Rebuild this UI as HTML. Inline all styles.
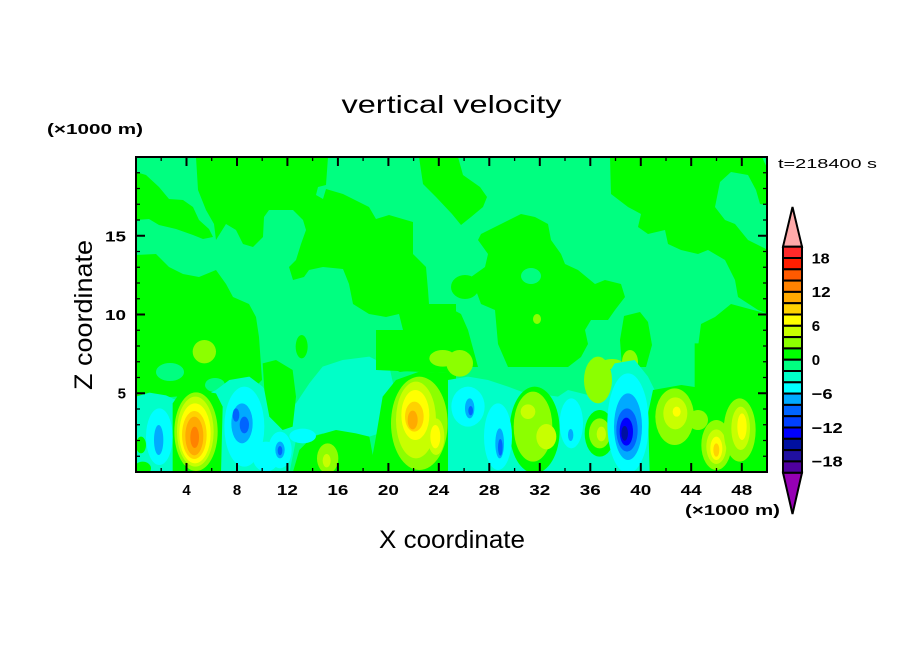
<!DOCTYPE html>
<html>
<head>
<meta charset="utf-8">
<style>
html,body{margin:0;padding:0;background:#fff;}
svg{display:block;}
text{font-family:"Liberation Sans",sans-serif;fill:#000;}
</style>
</head>
<body>
<svg width="904" height="654" viewBox="0 0 904 654" xmlns="http://www.w3.org/2000/svg">
<defs>
<clipPath id="pc"><rect x="136" y="157" width="631" height="315"/></clipPath>
</defs>
<rect width="904" height="654" fill="#fff"/>

<g clip-path="url(#pc)">
  <rect x="136" y="157" width="631" height="315" fill="#00ff80"/>
  <!-- upper green regions (actual coords) -->
  <g fill="#00ff00">
    <polygon points="136,172 146,175 159,187 169,199 183,200 193,207 199,220 209,229 213,237 203,239 193,235 176,229 159,225 149,219 136,220"/>
    <polygon points="196,157 328,157 326,185 318,187 316,195 323,199 326,189 343,194 369,207 376,219 389,215 413,222 413,254 426,267 428,290 429,304 456,304 456,372 430,368 400,372 385,365 399,347 403,330 399,314 386,317 369,314 353,304 349,284 343,269 323,267 309,270 304,277 293,280 289,267 296,260 301,244 306,230 303,220 293,210 269,210 264,217 263,237 253,247 243,244 236,230 226,224 216,240 214,224 206,210 198,190"/>
    <polygon points="419,157 458,157 463,175 480,187 487,197 483,207 471,217 461,225 452,214 436,197 423,184"/>
    <polygon points="610,157 768,157 768,314 758,310 738,297 735,280 725,260 708,250 698,254 681,250 668,244 665,230 648,234 638,227 641,214 628,207 611,194"/>
    <polygon points="481,234 501,224 521,214 535,217 548,224 551,240 561,254 565,264 578,270 595,284 605,280 621,284 625,297 615,310 608,320 591,320 585,330 588,344 581,357 568,367 508,367 498,344 495,310 481,304 471,277 485,267 488,254 478,240"/>
    <polygon points="695,370 701,324 715,317 731,304 768,314 768,370"/>
    <polygon points="448,307 461,314 468,330 478,367 448,367"/>
    <polygon points="624,316 640,312 648,322 652,345 646,367 622,367 620,340"/>
    <polygon points="136,255 156,254 169,267 183,274 199,277 216,270 226,284 233,297 249,304 256,317 259,337 262,380 250,392 220,393 200,395 170,397 150,400 136,400"/>
    <ellipse cx="465" cy="287" rx="14" ry="12"/>
  </g>
  <g fill="#00ff80">
    <polygon points="715,207 720,182 731,172 748,175 756,190 760,204 768,205 768,250 748,240 735,224 725,220"/>
    <polygon points="762,157 768,157 768,170"/>
    <ellipse cx="531" cy="276" rx="10" ry="8"/>
    <ellipse cx="170" cy="372" rx="14" ry="9"/>
    <ellipse cx="215" cy="385" rx="10" ry="7"/>
  </g>
  <g fill="#8cff00">
    <ellipse cx="630" cy="362" rx="8" ry="12"/>
    <ellipse cx="612" cy="364" rx="11" ry="5"/>
    <ellipse cx="537" cy="319" rx="4" ry="5"/>
    <ellipse cx="442" cy="360" rx="12" ry="8"/>
  </g>

  <!-- zoom 10 region: left lower -->
  <g transform="translate(136,330) scale(0.33333)">
    <polygon points="0,429 0,200 40,188 90,196 120,210 200,200 240,180 280,150 340,140 380,170 420,230 480,220 520,160 560,110 620,90 700,80 760,110 780,200 760,300 700,320 640,330 560,310 480,330 460,429" fill="#00ffc8"/>
    <g fill="#00ff00">
      <polygon points="110,429 110,220 130,190 180,180 240,190 260,230 255,429"/>
      <polygon points="470,429 490,360 530,320 600,300 660,310 700,320 720,429"/>
      <polygon points="700,429 720,320 740,200 780,150 850,125 960,130 960,429"/>
      <polygon points="380,100 420,90 470,120 480,200 470,290 440,300 400,260 385,180"/>
      <ellipse cx="497" cy="50" rx="18" ry="35"/>
      <ellipse cx="15" cy="345" rx="15" ry="25"/>
      <polygon points="720,0 960,0 960,130 720,120"/>
      <ellipse cx="20" cy="415" rx="25" ry="20"/>
    </g>
    <g fill="#00ffff">
      <ellipse cx="70" cy="320" rx="40" ry="85"/>
      <ellipse cx="325" cy="290" rx="60" ry="120"/>
      <ellipse cx="390" cy="380" rx="40" ry="45"/>
      <ellipse cx="432" cy="360" rx="35" ry="55"/>
      <ellipse cx="500" cy="318" rx="40" ry="22"/>
    </g>
    <g fill="#00aaff">
      <ellipse cx="68" cy="330" rx="14" ry="45"/>
      <ellipse cx="318" cy="280" rx="32" ry="60"/>
      <ellipse cx="432" cy="360" rx="14" ry="25"/>
    </g>
    <g fill="#0064ff">
      <ellipse cx="300" cy="255" rx="10" ry="20"/>
      <ellipse cx="325" cy="285" rx="14" ry="25"/>
      <ellipse cx="432" cy="362" rx="7" ry="14"/>
    </g>
    <ellipse cx="180" cy="305" rx="65" ry="118" fill="#8cff00"/>
    <ellipse cx="178" cy="305" rx="55" ry="105" fill="#c8ff00"/>
    <ellipse cx="177" cy="310" rx="47" ry="90" fill="#ffff00"/>
    <ellipse cx="175" cy="315" rx="37" ry="72" fill="#ffd200"/>
    <ellipse cx="175" cy="318" rx="27" ry="58" fill="#ffaa00"/>
    <ellipse cx="176" cy="322" rx="13" ry="32" fill="#ff8200"/>
    <ellipse cx="205" cy="65" rx="35" ry="35" fill="#8cff00"/>
    <ellipse cx="575" cy="385" rx="32" ry="45" fill="#8cff00"/>
    <ellipse cx="572" cy="392" rx="12" ry="20" fill="#c8ff00"/>
    <ellipse cx="850" cy="280" rx="85" ry="140" fill="#8cff00"/>
    <ellipse cx="840" cy="270" rx="60" ry="115" fill="#c8ff00"/>
    <ellipse cx="838" cy="255" rx="42" ry="75" fill="#ffff00"/>
    <ellipse cx="900" cy="320" rx="25" ry="55" fill="#c8ff00"/>
    <ellipse cx="898" cy="320" rx="15" ry="35" fill="#ffff00"/>
    <ellipse cx="835" cy="260" rx="28" ry="45" fill="#ffd200"/>
    <ellipse cx="830" cy="270" rx="15" ry="28" fill="#ffaa00"/>
    <ellipse cx="920" cy="85" rx="40" ry="25" fill="#8cff00"/>
  </g>

  <!-- zoom 11 region: right lower -->
  <g transform="translate(448,330) scale(0.33333)">
    <polygon points="0,150 60,140 120,150 180,170 220,185 330,200 360,180 420,195 470,150 500,100 560,90 600,140 620,180 620,429 0,429" fill="#00ffc8"/>
    <g fill="#00ff00">
      <polygon points="605,429 600,250 615,180 700,165 800,180 960,190 960,429"/>
      <polygon points="740,40 960,40 960,200 740,200"/>
      <ellipse cx="260" cy="300" rx="75" ry="130"/>
      <ellipse cx="455" cy="310" rx="45" ry="70"/>
    </g>
    <ellipse cx="35" cy="100" rx="40" ry="40" fill="#8cff00"/>
    <ellipse cx="450" cy="150" rx="42" ry="70" fill="#8cff00"/>
    <ellipse cx="255" cy="290" rx="58" ry="105" fill="#8cff00"/>
    <ellipse cx="240" cy="245" rx="22" ry="22" fill="#c8ff00"/>
    <ellipse cx="295" cy="320" rx="30" ry="38" fill="#c8ff00"/>
    <ellipse cx="455" cy="310" rx="32" ry="45" fill="#8cff00"/>
    <ellipse cx="460" cy="312" rx="14" ry="22" fill="#c8ff00"/>
    <g fill="#00ffff">
      <ellipse cx="60" cy="230" rx="50" ry="60"/>
      <ellipse cx="150" cy="320" rx="42" ry="100"/>
      <ellipse cx="370" cy="280" rx="35" ry="75"/>
      <ellipse cx="540" cy="280" rx="62" ry="150"/>
    </g>
    <g fill="#00aaff">
      <ellipse cx="65" cy="235" rx="14" ry="30"/>
      <ellipse cx="155" cy="340" rx="13" ry="45"/>
      <ellipse cx="368" cy="315" rx="8" ry="18"/>
      <ellipse cx="540" cy="290" rx="42" ry="100"/>
    </g>
    <g fill="#0064ff">
      <ellipse cx="68" cy="242" rx="7" ry="14"/>
      <ellipse cx="157" cy="352" rx="7" ry="25"/>
      <ellipse cx="537" cy="300" rx="32" ry="65"/>
    </g>
    <ellipse cx="535" cy="305" rx="20" ry="42" fill="#0000ff"/>
    <ellipse cx="530" cy="310" rx="10" ry="22" fill="#0010a0"/>
    <ellipse cx="680" cy="260" rx="58" ry="85" fill="#8cff00"/>
    <ellipse cx="682" cy="250" rx="36" ry="48" fill="#c8ff00"/>
    <ellipse cx="686" cy="245" rx="12" ry="15" fill="#ffff00"/>
    <ellipse cx="750" cy="270" rx="30" ry="30" fill="#8cff00"/>
    <ellipse cx="805" cy="345" rx="45" ry="75" fill="#8cff00"/>
    <ellipse cx="805" cy="350" rx="30" ry="52" fill="#c8ff00"/>
    <ellipse cx="805" cy="355" rx="18" ry="35" fill="#ffff00"/>
    <ellipse cx="805" cy="360" rx="9" ry="20" fill="#ffd200"/>
    <ellipse cx="875" cy="300" rx="48" ry="95" fill="#8cff00"/>
    <ellipse cx="878" cy="295" rx="28" ry="65" fill="#c8ff00"/>
    <ellipse cx="882" cy="290" rx="14" ry="40" fill="#ffff00"/>
  </g>
</g>

<!-- frame -->
<rect x="136" y="157" width="631" height="315" fill="none" stroke="#000" stroke-width="2"/>
<!-- ticks -->
<g stroke="#000" stroke-width="2">
  <path d="M186.5,472v-9 M237,472v-9 M287.4,472v-9 M337.9,472v-9 M388.4,472v-9 M438.8,472v-9 M489.3,472v-9 M539.8,472v-9 M590.3,472v-9 M640.8,472v-9 M691.2,472v-9 M741.8,472v-9"/>
  <path d="M186.5,157v9 M237,157v9 M287.4,157v9 M337.9,157v9 M388.4,157v9 M438.8,157v9 M489.3,157v9 M539.8,157v9 M590.3,157v9 M640.8,157v9 M691.2,157v9 M741.8,157v9"/>
  <path d="M136,393.25h9 M136,314.5h9 M136,235.75h9 M767,393.25h-9 M767,314.5h-9 M767,235.75h-9"/>
</g>
<g stroke="#000" stroke-width="1.3">
  <path d="M161.2,472v-4 M211.7,472v-4 M262.2,472v-4 M312.6,472v-4 M363.1,472v-4 M413.6,472v-4 M464.1,472v-4 M514.6,472v-4 M565,472v-4 M615.5,472v-4 M666,472v-4 M716.5,472v-4"/>
  <path d="M161.2,157v4 M211.7,157v4 M262.2,157v4 M312.6,157v4 M363.1,157v4 M413.6,157v4 M464.1,157v4 M514.6,157v4 M565,157v4 M615.5,157v4 M666,157v4 M716.5,157v4"/>
  <path d="M136,456.25h4 M136,440.5h4 M136,424.75h4 M136,409h4 M136,377.5h4 M136,361.75h4 M136,346h4 M136,330.25h4 M136,298.75h4 M136,283h4 M136,267.25h4 M136,251.5h4 M136,220h4 M136,204.25h4 M136,188.5h4 M136,172.75h4"/>
  <path d="M767,456.25h-4 M767,440.5h-4 M767,424.75h-4 M767,409h-4 M767,377.5h-4 M767,361.75h-4 M767,346h-4 M767,330.25h-4 M767,298.75h-4 M767,283h-4 M767,267.25h-4 M767,251.5h-4 M767,220h-4 M767,204.25h-4 M767,188.5h-4 M767,172.75h-4"/>
</g>

<!-- tick labels -->
<g font-size="15" font-weight="bold" text-anchor="middle">
  <text x="186.5" y="495">4</text>
  <text x="237" y="495">8</text>
  <text x="287.4" y="495" textLength="21" lengthAdjust="spacingAndGlyphs">12</text>
  <text x="337.9" y="495" textLength="21" lengthAdjust="spacingAndGlyphs">16</text>
  <text x="388.4" y="495" textLength="21" lengthAdjust="spacingAndGlyphs">20</text>
  <text x="438.8" y="495" textLength="21" lengthAdjust="spacingAndGlyphs">24</text>
  <text x="489.3" y="495" textLength="21" lengthAdjust="spacingAndGlyphs">28</text>
  <text x="539.8" y="495" textLength="21" lengthAdjust="spacingAndGlyphs">32</text>
  <text x="590.3" y="495" textLength="21" lengthAdjust="spacingAndGlyphs">36</text>
  <text x="640.8" y="495" textLength="21" lengthAdjust="spacingAndGlyphs">40</text>
  <text x="691.2" y="495" textLength="21" lengthAdjust="spacingAndGlyphs">44</text>
  <text x="741.8" y="495" textLength="21" lengthAdjust="spacingAndGlyphs">48</text>
</g>
<g font-size="15" font-weight="bold" text-anchor="end">
  <text x="126" y="398.7">5</text>
  <text x="126" y="320" textLength="21" lengthAdjust="spacingAndGlyphs">10</text>
  <text x="126" y="241.5" textLength="21" lengthAdjust="spacingAndGlyphs">15</text>
</g>

<!-- titles -->
<text x="451.5" y="113" font-size="25" text-anchor="middle" textLength="220" lengthAdjust="spacingAndGlyphs">vertical velocity</text>
<text x="452" y="548" font-size="25" text-anchor="middle" textLength="146" lengthAdjust="spacingAndGlyphs">X coordinate</text>
<text transform="translate(92,315) rotate(-90)" font-size="25" text-anchor="middle" textLength="150" lengthAdjust="spacingAndGlyphs">Z coordinate</text>
<text x="47" y="134" font-size="15" font-weight="bold" textLength="96" lengthAdjust="spacingAndGlyphs">(×1000 m)</text>
<text x="685" y="515" font-size="15" font-weight="bold" textLength="95" lengthAdjust="spacingAndGlyphs">(×1000 m)</text>
<text x="778" y="168" font-size="13" textLength="99" lengthAdjust="spacingAndGlyphs">t=218400 s</text>

<!-- colorbar -->
<g stroke="#000" stroke-width="2">
  <polygon points="792.5,207 802,246.7 783,246.7" fill="#ffaaaa"/>
  <polygon points="792.5,514 802,472.7 783,472.7" fill="#9600b4"/>
  <rect x="783" y="246.7" width="19" height="11.3" fill="#ff2a2a"/>
  <rect x="783" y="258" width="19" height="11.3" fill="#ff1e00"/>
  <rect x="783" y="269.3" width="19" height="11.3" fill="#ff5a00"/>
  <rect x="783" y="280.6" width="19" height="11.3" fill="#ff8200"/>
  <rect x="783" y="291.9" width="19" height="11.3" fill="#ffaa00"/>
  <rect x="783" y="303.2" width="19" height="11.3" fill="#ffd200"/>
  <rect x="783" y="314.5" width="19" height="11.3" fill="#ffff00"/>
  <rect x="783" y="325.8" width="19" height="11.3" fill="#c8ff00"/>
  <rect x="783" y="337.1" width="19" height="11.3" fill="#8cff00"/>
  <rect x="783" y="348.4" width="19" height="11.3" fill="#00ff00"/>
  <rect x="783" y="359.7" width="19" height="11.3" fill="#00ff80"/>
  <rect x="783" y="371" width="19" height="11.3" fill="#00ffc8"/>
  <rect x="783" y="382.3" width="19" height="11.3" fill="#00ffff"/>
  <rect x="783" y="393.6" width="19" height="11.3" fill="#00aaff"/>
  <rect x="783" y="404.9" width="19" height="11.3" fill="#0064ff"/>
  <rect x="783" y="416.2" width="19" height="11.3" fill="#0040ff"/>
  <rect x="783" y="427.5" width="19" height="11.3" fill="#0000ff"/>
  <rect x="783" y="438.8" width="19" height="11.3" fill="#0010a0"/>
  <rect x="783" y="450.1" width="19" height="11.3" fill="#2010a0"/>
  <rect x="783" y="461.4" width="19" height="11.3" fill="#5000a0"/>
</g>
<g font-size="15" font-weight="bold">
  <text x="811.7" y="263.3" textLength="18" lengthAdjust="spacingAndGlyphs">18</text>
  <text x="811.7" y="297.2" textLength="19" lengthAdjust="spacingAndGlyphs">12</text>
  <text x="811.7" y="331.1">6</text>
  <text x="811.7" y="365">0</text>
  <text x="811.7" y="398.9" textLength="21" lengthAdjust="spacingAndGlyphs">−6</text>
  <text x="811.7" y="432.8" textLength="31" lengthAdjust="spacingAndGlyphs">−12</text>
  <text x="811.7" y="466.7" textLength="31" lengthAdjust="spacingAndGlyphs">−18</text>
</g>
</svg>
</body>
</html>
